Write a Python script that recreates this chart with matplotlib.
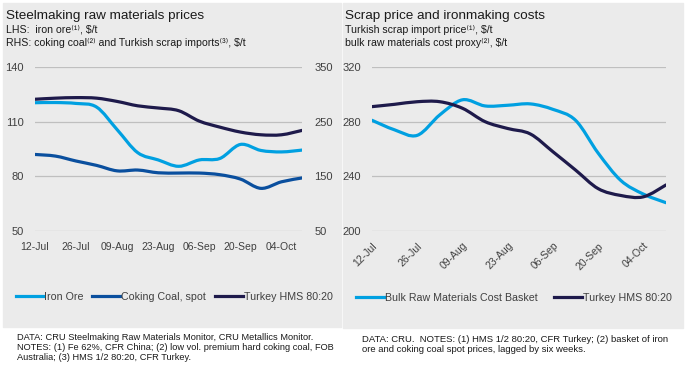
import numpy as np
import matplotlib
matplotlib.use('Agg')
import matplotlib.pyplot as plt
import matplotlib.dates as mdates
from matplotlib.path import Path
from matplotlib.patches import PathPatch, Rectangle
from matplotlib.lines import Line2D
import datetime as dt

plt.rcParams['font.family'] = ['Liberation Sans', 'DejaVu Sans']

# weekly dates, 12-Jul to 11-Oct
dates = [dt.date(2019, 7, 12) + dt.timedelta(days=7 * i) for i in range(14)]
tick_dates = [dt.date(2019, 7, 12) + dt.timedelta(days=14 * i) for i in range(7)]

# left chart
iron_ore = [120.4, 120.5, 120.0, 118.0, 105.6, 93.0, 89.0, 85.5, 89.0, 89.8, 97.5, 94.2, 93.4, 94.4]
coking_coal = [190, 187, 178, 170, 160, 161.5, 156.5, 156, 156, 153, 145, 128, 140, 147]
turkey_hms = [291, 293, 294, 293, 287, 279, 275, 270, 251, 240, 231, 226, 226, 234]

# right chart
bulk_basket = [281, 274, 270, 285, 296, 291.5, 292, 293, 289, 281, 257, 237, 227, 220.7]
turkey_hms_r = [291, 292.7, 294.6, 294.6, 289.8, 280, 275, 271, 258, 244.6, 231, 226, 225, 233.7]

LIGHT = '#00a0e1'
MID = '#0a4f9e'
NAVY = '#1e1a4b'
BG = '#ebebeb'
GRID = '#bfbfbf'
TXT = '#404040'


def smooth_line(ax, x, y, color, lw=2.3):
    # Excel-style smoothed line (Catmull-Rom as bezier segments)
    x = np.asarray(x, float)
    y = np.asarray(y, float)
    n = len(x)
    verts = [(x[0], y[0])]
    codes = [Path.MOVETO]
    for i in range(n - 1):
        p0 = (x[i - 1], y[i - 1]) if i > 0 else (x[i], y[i])
        p1 = (x[i], y[i])
        p2 = (x[i + 1], y[i + 1])
        p3 = (x[i + 2], y[i + 2]) if i + 2 < n else p2
        c1 = (p1[0] + (p2[0] - p0[0]) / 6, p1[1] + (p2[1] - p0[1]) / 6)
        c2 = (p2[0] - (p3[0] - p1[0]) / 6, p2[1] - (p3[1] - p1[1]) / 6)
        verts += [c1, c2, p2]
        codes += [Path.CURVE4] * 3
    ax.add_patch(PathPatch(Path(verts, codes), fill=False, edgecolor=color,
                           lw=lw, capstyle='round', joinstyle='round'))


def style(ax):
    ax.set_facecolor('none')
    for s in ax.spines.values():
        s.set_visible(False)
    ax.tick_params(length=0, labelsize=7.5, labelcolor=TXT)
    ax.tick_params(axis='y', labelsize=8)


fig = plt.figure(figsize=(6.86, 3.67), dpi=100)
W, H = 686, 367
fig.patches.append(Rectangle((3 / W, 1 - 327 / H), 338 / W, 324 / H,
                             transform=fig.transFigure, color=BG, zorder=-10))
fig.patches.append(Rectangle((343 / W, 1 - 328 / H), 340 / W, 325 / H,
                             transform=fig.transFigure, color=BG, zorder=-10))

xd = mdates.date2num(dates)
xt = mdates.date2num(tick_dates)

# ---- left panel ----
ax1 = fig.add_axes([35 / W, 1 - 231 / H, 267 / W, 164 / H])
ax2 = ax1.twinx()
style(ax1)
style(ax2)
ax1.set_xlim(xd[0], xd[-1])
ax1.set_ylim(50, 140)
ax1.set_yticks([50, 80, 110, 140])
ax2.set_ylim(50, 350)
ax2.set_yticks([50, 150, 250, 350])
ax1.yaxis.grid(True, color=GRID, lw=0.9)
ax1.set_axisbelow(True)
ax1.set_xticks(xt)
ax1.set_xticklabels([d.strftime('%d-%b') for d in tick_dates])
ax1.tick_params(axis='x', pad=8)
ax1.tick_params(axis='y', pad=8)
ax2.tick_params(axis='y', pad=9)
smooth_line(ax1, xd, iron_ore, LIGHT)
smooth_line(ax2, xd, coking_coal, MID)
smooth_line(ax2, xd, turkey_hms, NAVY)

# ---- right panel ----
ax3 = fig.add_axes([372 / W, 1 - 231 / H, 294 / W, 164 / H])
style(ax3)
ax3.set_xlim(xd[0], xd[-1])
ax3.set_ylim(200, 320)
ax3.set_yticks([200, 240, 280, 320])
ax3.yaxis.grid(True, color=GRID, lw=0.9)
ax3.set_axisbelow(True)
ax3.set_xticks(xt)
ax3.set_xticklabels([d.strftime('%d-%b') for d in tick_dates], rotation=45,
                    ha='right', rotation_mode='anchor')
ax3.tick_params(axis='x', pad=7)
ax3.tick_params(axis='y', pad=8)
smooth_line(ax3, xd, bulk_basket, LIGHT)
smooth_line(ax3, xd, turkey_hms_r, NAVY)

# ---- titles ----
fig.text(6 / W, 1 - 16 / H, 'Steelmaking raw materials prices', fontsize=9.7,
         va='center', color='#1a1a1a')
fig.text(6 / W, 1 - 30 / H, 'LHS:  iron ore⁽¹⁾, $/t', fontsize=7.6, va='center', color='#1a1a1a')
fig.text(6 / W, 1 - 43 / H, 'RHS: coking coal⁽²⁾ and Turkish scrap imports⁽³⁾, $/t',
         fontsize=7.6, va='center', color='#1a1a1a')
fig.text(345 / W, 1 - 16 / H, 'Scrap price and ironmaking costs', fontsize=9.7,
         va='center', color='#1a1a1a')
fig.text(345 / W, 1 - 30 / H, 'Turkish scrap import price⁽¹⁾, $/t', fontsize=7.6,
         va='center', color='#1a1a1a')
fig.text(345 / W, 1 - 43 / H, 'bulk raw materials cost proxy⁽²⁾, $/t', fontsize=7.6,
         va='center', color='#1a1a1a')

# ---- legends ----
h_left = [Line2D([], [], color=c, lw=2.3) for c in (LIGHT, MID, NAVY)]
fig.legend(h_left, ['Iron Ore', 'Coking Coal, spot', 'Turkey HMS 80:20'],
           loc='center', bbox_to_anchor=(174 / W, 1 - 297 / H), ncol=3,
           frameon=False, fontsize=7.7, handlelength=2.6, handletextpad=0.1,
           columnspacing=0.8, labelcolor=TXT)
h_right = [Line2D([], [], color=c, lw=2.3) for c in (LIGHT, NAVY)]
fig.legend(h_right, ['Bulk Raw Materials Cost Basket', 'Turkey HMS 80:20'],
           loc='center', bbox_to_anchor=(514 / W, 1 - 298 / H), ncol=2,
           frameon=False, fontsize=7.7, handlelength=2.6, handletextpad=0.1,
           columnspacing=1.5, labelcolor=TXT)

# ---- footnotes ----
fig.text(17 / W, 1 - 333 / H,
         'DATA: CRU Steelmaking Raw Materials Monitor, CRU Metallics Monitor.\n'
         'NOTES: (1) Fe 62%, CFR China; (2) low vol. premium hard coking coal, FOB\n'
         'Australia; (3) HMS 1/2 80:20, CFR Turkey.',
         fontsize=6.65, va='top', linespacing=1.12, color='#1a1a1a')
fig.text(362 / W, 1 - 335 / H,
         'DATA: CRU.  NOTES: (1) HMS 1/2 80:20, CFR Turkey; (2) basket of iron\n'
         'ore and coking coal spot prices, lagged by six weeks.',
         fontsize=6.8, va='top', linespacing=1.12, color='#1a1a1a')

fig.savefig('out.png', dpi=100)
